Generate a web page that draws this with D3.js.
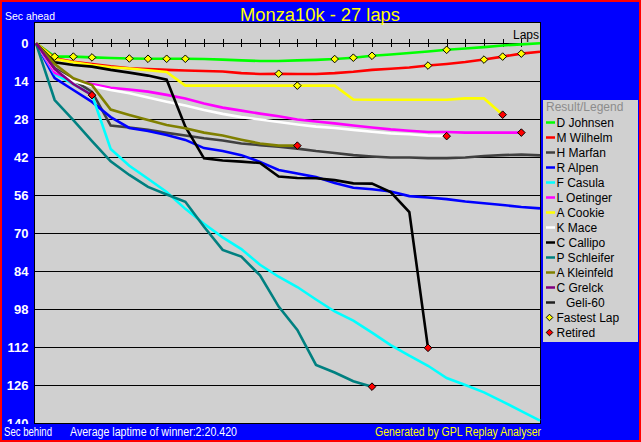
<!DOCTYPE html>
<html><head><meta charset="utf-8">
<script src="https://cdn.jsdelivr.net/npm/d3@7"></script>
<style>html,body{margin:0;padding:0;background:#0000ff;overflow:hidden}svg{display:block}text{font-family:"Liberation Sans",Arial,sans-serif}</style>
</head><body>
<svg id="c" width="641" height="442"></svg>
<script>
const chartTitle = "Monza10k - 27 laps";
const totalLaps = 27;
const yTicks = [0, 14, 28, 42, 56, 70, 84, 98, 112, 126, 140];
const drivers = ["D Johnsen","M Wilhelm","H Marfan","R Alpen","F Casula","L Oetinger","A Cookie","K Mace","C Callipo","P Schleifer","A Kleinfeld","C Grelck","Geli-60"];
const colors = ["#00ff00","#ff0000","#404040","#0000ff","#00ffff","#ff00ff","#ffff00","#ffffff","#000000","#008080","#808000","#800080","#202020"];

// seconds behind the winner's average pace, one value per lap (lap 0 first)
const johnsen   = [0,4.9,4.9,5.2,5.4,5.6,5.7,5.7,5.7,5.8,6.0,6.3,6.5,6.5,6.3,6.1,5.8,5.3,4.6,4.1,3.6,3.0,2.4,1.9,1.4,0.8,0.4,0];
const wilhelm   = [0,5.5,6.8,7.6,8.5,9.2,9.5,9.8,10.0,10.2,10.4,11.0,11.3,11.2,11.3,11.3,11.0,10.5,9.8,9.4,8.9,8.2,7.6,6.9,6.0,4.9,3.8,3.1];
const marfan    = [0,9.1,13.5,17.9,30.3,31.0,31.9,33.0,34.0,35.0,35.8,36.9,37.5,38.1,38.8,39.7,40.4,41.2,41.7,42.1,42.1,42.3,42.3,42.1,41.5,41.2,41.0,41.3];
const alpen     = [0,12.8,17.2,21.6,27.2,31.2,32.3,33.8,35.6,38.6,39.7,41.2,43.7,46.7,48.0,49.3,51.5,53.2,53.8,54.6,56.3,56.8,57.4,58.3,58.9,59.6,60.3,60.8];
const casula    = [0,11.3,15.0,19.0,38.9,45.1,49.9,54.8,61.0,66.5,71.5,75.8,81.6,86.0,89.8,94.4,98.8,102.2,106.6,111.2,115.1,118.8,123.3,125.9,128.6,132.0,135.5,139.0];
const oetinger  = [0,10.9,13.4,15.0,16.4,17.0,17.8,19.0,20.3,22.2,23.7,24.8,25.9,26.9,28.1,28.8,29.5,30.3,31.0,31.7,32.2,32.7,32.7,32.9,32.9,32.9,32.9];
const cookie    = [0,5.8,7.0,8.0,8.8,9.3,9.9,10.6,15.6,15.6,15.6,15.6,15.6,15.6,15.6,15.6,15.6,20.7,20.8,20.8,20.8,20.8,20.8,20.3,20.3,26.3];
const mace      = [0,9.8,13.9,15.7,17.2,18.4,20.0,21.5,22.9,24.6,26.0,27.2,28.1,29.0,29.9,30.7,31.2,31.9,32.6,33.2,33.5,34.0,34.2];
const callipo   = [0,7.0,8.0,8.6,9.8,10.8,11.9,13.4,30.7,42.4,43.2,43.6,44.1,49.1,49.6,49.7,50.4,51.6,51.7,54.8,62.2,112.2];
const schleifer = [0,20.9,28.3,36.0,43.5,48.5,52.9,55.7,58.4,67.6,76.1,78.6,85.5,97.0,105.6,118.5,121.3,124.5,126.5];
const kleinfeld = [0,7.6,12.9,15.4,24.4,26.4,28.3,30.1,31.3,32.9,34.0,35.5,36.9,37.7,37.7];
const grelck    = [0,9.5,15.0,19.1];
const geli60    = [];

const seriesValues = [johnsen,wilhelm,marfan,alpen,casula,oetinger,cookie,mace,callipo,schleifer,kleinfeld,grelck,geli60];
const retiredDrivers = ["L Oetinger","A Cookie","K Mace","C Callipo","P Schleifer","A Kleinfeld","C Grelck"];
const fastestLapDrivers = ["D Johnsen","M Wilhelm","A Cookie"];
const fastestLapLaps = [[1,2,3,5,6,7,8,16,17,18,22],[13,21,24,25,26],[14]];
const footerLeft = "Sec behind";
const footerMid = "Average laptime of winner:2:20.420";
const footerRight = "Generated by GPL Replay Analyser";

const svg = d3.select("#c");
const W = 641, H = 442;
const plot = {x0: 34, x1: 540, y0: 22, y1: 423};

const x = d3.scaleLinear().domain([0, totalLaps]).range([36, 540]);
const y = d3.scaleLinear().domain([0, 140]).range([43.3, 423.3]);

svg.append("rect").attr("width", W).attr("height", H).attr("fill", "#0000ff");
svg.append("rect").attr("x", 1).attr("y", 1).attr("width", W - 2).attr("height", H - 2)
  .attr("fill", "none").attr("stroke", "#ff0000").attr("stroke-width", 2);

const defs = svg.append("defs");
defs.append("clipPath").attr("id", "plotClip").append("rect")
  .attr("x", plot.x0).attr("y", plot.y0).attr("width", plot.x1 - plot.x0 + 1).attr("height", plot.y1 - plot.y0);
defs.append("clipPath").attr("id", "labelClip").append("rect")
  .attr("x", 0).attr("y", 0).attr("width", 34).attr("height", 424);

svg.append("rect").attr("x", plot.x0 + 0.5).attr("y", plot.y0 + 0.5)
  .attr("width", plot.x1 - plot.x0).attr("height", plot.y1 - plot.y0)
  .attr("fill", "#d0d0d0").attr("stroke", "#000").attr("stroke-width", 1);

// horizontal grid (y axis)
const yAxis = d3.axisLeft(y).tickValues(yTicks.filter(v => v < 140))
  .tickSize(-(plot.x1 - plot.x0) - 1).tickFormat("");
const ga = svg.append("g").attr("transform", `translate(${plot.x0},0)`).call(yAxis);
ga.select(".domain").remove();
ga.selectAll(".tick line").attr("stroke", "#000").attr("stroke-width", 1.2).attr("shape-rendering", "crispEdges");

// y labels
svg.append("g").attr("clip-path", "url(#labelClip)").selectAll("text").data(yTicks).join("text")
  .attr("x", 28.5).attr("y", d => y(d)).attr("dy", "0.36em")
  .attr("text-anchor", "end").attr("fill", "#fff").attr("font-weight", "bold").attr("font-size", 13)
  .text(d => d);

// lap ticks on zero line
const xAxis = d3.axisTop(x).tickValues(d3.range(1, totalLaps)).tickSize(4).tickSizeInner(4).tickFormat("");
const gx = svg.append("g").attr("transform", `translate(0,${y(0)})`).call(xAxis);
gx.select(".domain").remove();
gx.selectAll(".tick line").attr("stroke", "#000").attr("y1", 4).attr("y2", -4).attr("shape-rendering", "crispEdges");

// lines
const line = d3.line().x((d, i) => x(i)).y(d => y(d));
const gl = svg.append("g").attr("clip-path", "url(#plotClip)");
seriesValues.forEach((vals, k) => {
  if (vals.length < 2) return;
  gl.append("path").attr("d", line(vals)).attr("fill", "none")
    .attr("stroke", colors[k]).attr("stroke-width", 2.6).attr("stroke-linejoin", "miter");
});

const diamond = "M0,-3.8L3.8,0L0,3.8L-3.8,0Z";
// fastest lap markers
fastestLapDrivers.forEach((name, j) => {
  const vals = seriesValues[drivers.indexOf(name)];
  fastestLapLaps[j].forEach(l => {
    svg.append("path").attr("d", diamond).attr("transform", `translate(${x(l)},${y(vals[l])})`)
      .attr("fill", "#ffff00").attr("stroke", "#000").attr("stroke-width", 1);
  });
});
// retired markers
retiredDrivers.forEach(name => {
  const vals = seriesValues[drivers.indexOf(name)];
  const l = vals.length - 1;
  svg.append("path").attr("d", diamond).attr("transform", `translate(${x(l)},${y(vals[l])})`)
    .attr("fill", "#ff0000").attr("stroke", "#000").attr("stroke-width", 1);
});

// texts
svg.append("text").attr("x", 320).attr("y", 20.5).attr("text-anchor", "middle")
  .attr("fill", "#ffff00").attr("font-size", 19).attr("textLength", 160).attr("lengthAdjust", "spacingAndGlyphs")
  .text(chartTitle);
svg.append("text").attr("x", 5).attr("y", 20).attr("fill", "#fff").attr("font-size", 11.5)
  .attr("textLength", 50).attr("lengthAdjust", "spacingAndGlyphs").text("Sec ahead");
svg.append("text").attr("x", 539).attr("y", 39).attr("text-anchor", "end").attr("fill", "#000")
  .attr("font-size", 12).text("Laps");
svg.append("text").attr("x", 4).attr("y", 436).attr("fill", "#fff").attr("font-size", 12)
  .attr("textLength", 48).attr("lengthAdjust", "spacingAndGlyphs").text(footerLeft);
svg.append("text").attr("x", 70).attr("y", 436).attr("fill", "#fff").attr("font-size", 12)
  .attr("textLength", 167).attr("lengthAdjust", "spacingAndGlyphs").text(footerMid);
svg.append("text").attr("x", 375).attr("y", 436).attr("fill", "#ffff00").attr("font-size", 12)
  .attr("textLength", 166).attr("lengthAdjust", "spacingAndGlyphs").text(footerRight);

// legend
const lg = svg.append("g");
lg.append("rect").attr("x", 543).attr("y", 100).attr("width", 95).attr("height", 242).attr("fill", "#d0d0d0");
lg.append("text").attr("x", 546).attr("y", 111).attr("fill", "#8c8c8c").attr("font-size", 12).text("Result/Legend");
drivers.forEach((name, k) => {
  const cy = 122.5 + k * 15;
  lg.append("line").attr("x1", 546).attr("x2", 555).attr("y1", cy).attr("y2", cy)
    .attr("stroke", colors[k]).attr("stroke-width", 2.5);
  lg.append("text").attr("x", name === "Geli-60" ? 566 : 556.5).attr("y", cy + 4.5)
    .attr("fill", "#000").attr("font-size", 12).text(name);
});
[["Fastest Lap", "#ffff00"], ["Retired", "#ff0000"]].forEach(([name, col], j) => {
  const cy = 122.5 + (drivers.length + j) * 15;
  lg.append("path").attr("d", "M0,-3.3L3.3,0L0,3.3L-3.3,0Z").attr("transform", `translate(549.5,${cy})`)
    .attr("fill", col).attr("stroke", "#000").attr("stroke-width", 1);
  lg.append("text").attr("x", 556.5).attr("y", cy + 4.5).attr("fill", "#000").attr("font-size", 12).text(name);
});
</script>
</body></html>
